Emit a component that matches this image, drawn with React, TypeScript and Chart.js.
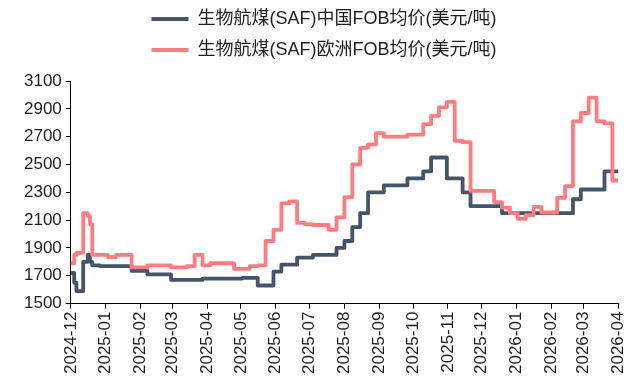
import React, { useEffect, useRef } from 'react';
import { Chart, registerables } from 'chart.js';

Chart.register(...registerables);

// Observation dates (price valid from this date until the next one)
const dates: string[] = [
  '2024-12-02', '2024-12-04', '2024-12-06', '2024-12-12', '2024-12-16', '2024-12-18',
  '2024-12-20', '2024-12-27',
  '2025-01-03', '2025-01-10', '2025-01-17', '2025-01-24', '2025-01-31',
  '2025-02-07', '2025-02-14', '2025-02-21', '2025-02-28',
  '2025-03-07', '2025-03-14', '2025-03-21', '2025-03-28',
  '2025-04-04', '2025-04-11', '2025-04-18', '2025-04-25',
  '2025-05-02', '2025-05-09', '2025-05-16', '2025-05-23', '2025-05-30',
  '2025-06-06', '2025-06-13', '2025-06-20', '2025-06-27',
  '2025-07-04', '2025-07-11', '2025-07-18', '2025-07-25',
  '2025-08-01', '2025-08-08', '2025-08-15', '2025-08-22', '2025-08-29',
  '2025-09-05', '2025-09-12', '2025-09-19', '2025-09-26',
  '2025-10-03', '2025-10-10', '2025-10-17', '2025-10-24', '2025-10-31',
  '2025-11-07', '2025-11-14', '2025-11-21', '2025-11-28',
  '2025-12-05', '2025-12-12', '2025-12-19', '2025-12-26',
  '2026-01-02', '2026-01-09', '2026-01-16', '2026-01-23', '2026-01-30',
  '2026-02-06', '2026-02-13', '2026-02-20', '2026-02-27',
  '2026-03-06', '2026-03-13', '2026-03-20', '2026-03-27',
  '2026-04-01',
];

const chinaPrices: number[] = [
  1720, 1650, 1590, 1800, 1850, 1800,
  1775, 1770,
  1770, 1770, 1770, 1735, 1735,
  1710, 1710, 1710, 1670,
  1670, 1670, 1670, 1680,
  1680, 1680, 1680, 1680,
  1685, 1685, 1630, 1630, 1730,
  1780, 1780, 1830, 1830,
  1850, 1850, 1850, 1900,
  1950, 2050, 2150, 2300, 2300,
  2350, 2350, 2350, 2400,
  2400, 2450, 2550, 2550, 2400,
  2400, 2300, 2200, 2200,
  2200, 2200, 2150, 2150,
  2150, 2150, 2150, 2150, 2150,
  2150, 2150, 2250, 2320,
  2320, 2320, 2450, 2450,
  2450,
];

const europePrices: number[] = [
  1790, 1850, 1865, 2150, 2130, 2070,
  1850, 1850,
  1835, 1850, 1850, 1760, 1760,
  1775, 1775, 1775, 1760,
  1760, 1770, 1850, 1775,
  1790, 1790, 1790, 1750,
  1750, 1770, 1775, 1950, 2030,
  2220, 2235, 2080, 2070,
  2065, 2065, 2030, 2120,
  2265, 2500, 2620, 2645, 2725,
  2700, 2700, 2700, 2715,
  2715, 2790, 2850, 2910, 2950,
  2670, 2660, 2310, 2310,
  2310, 2230, 2190, 2150,
  2110, 2135, 2195, 2155, 2155,
  2260, 2345, 2810, 2870,
  2980, 2810, 2795, 2385,
  2385,
];

const monthLabels: string[] = [
  '2024-12', '2025-01', '2025-02', '2025-03', '2025-04', '2025-05', '2025-06',
  '2025-07', '2025-08', '2025-09', '2025-10', '2025-11', '2025-12',
  '2026-01', '2026-02', '2026-03', '2026-04',
];

const seriesNames: string[] = [
  '生物航煤(SAF)中国FOB均价(美元/吨)',
  '生物航煤(SAF)欧洲FOB均价(美元/吨)',
];

const yTicks: number[] = [1500, 1700, 1900, 2100, 2300, 2500, 2700, 2900, 3100];

const BASE = Date.UTC(2024, 11, 1);
const dayOf = (s: string) => (Date.parse(s + 'T00:00:00Z') - BASE) / 86400000;

const FONT_FAMILY = "'Liberation Sans', Arial, 'Noto Sans CJK SC', sans-serif";
const TEXT_COLOR = '#1e1e1e';

const legendTweak = {
  id: 'legendTweak',
  afterInit(chart: any) {
    const lg = chart.legend;
    if (!lg || lg.__tweaked) return;
    lg.__tweaked = true;
    const fit = lg.fit.bind(lg);
    lg.fit = function () {
      fit();
      this.height += 9;
    };
    const draw = lg.draw.bind(lg);
    lg.draw = function () {
      const ctx = this.ctx;
      ctx.save();
      ctx.translate(5, -3);
      draw();
      ctx.restore();
    };
  },
};

export default function App() {
  const ref = useRef<HTMLCanvasElement>(null);

  useEffect(() => {
    document.body.style.margin = '0';
    const canvas = ref.current!;
    const chart = new Chart(canvas, {
      type: 'line',
      data: {
        datasets: [
          {
            label: seriesNames[0],
            data: dates.map((d, i) => ({ x: dayOf(d), y: chinaPrices[i] })),
            borderColor: '#44546A',
            backgroundColor: '#44546A',
            borderWidth: 3.8,
            pointRadius: 0,
            stepped: true,
            borderJoinStyle: 'round',
            borderCapStyle: 'round',
            order: 1,
          },
          {
            label: seriesNames[1],
            data: dates.map((d, i) => ({ x: dayOf(d), y: europePrices[i] })),
            borderColor: '#FF7C80',
            backgroundColor: '#FF7C80',
            borderWidth: 3.8,
            pointRadius: 0,
            stepped: true,
            borderJoinStyle: 'round',
            borderCapStyle: 'round',
            order: 0,
          },
        ],
      },
      options: {
        responsive: false,
        animation: false,
        layout: { padding: { left: 20, right: 16, top: 0, bottom: 2 } },
        plugins: {
          legend: {
            position: 'top',
            labels: {
              usePointStyle: true,
              pointStyle: 'line',
              pointStyleWidth: 37,
              padding: 13,
              color: TEXT_COLOR,
              font: { family: FONT_FAMILY, size: 18 },
              sort: (a: any, b: any) => a.datasetIndex - b.datasetIndex,
            },
          },
          tooltip: { enabled: false },
        },
        scales: {
          x: {
            type: 'linear',
            min: dayOf(monthLabels[0] + '-01'),
            max: dayOf(monthLabels[monthLabels.length - 1] + '-01'),
            afterBuildTicks: (scale: any) => {
              scale.ticks = monthLabels.map((m) => ({ value: dayOf(m + '-01') }));
            },
            afterFit: (scale: any) => {
              scale.paddingRight = 0;
              scale.paddingLeft = 0;
            },
            ticks: {
              autoSkip: false,
              maxRotation: 90,
              minRotation: 90,
              padding: 3,
              color: TEXT_COLOR,
              font: { family: FONT_FAMILY, size: 17 },
              callback: (_v: any, i: number) => monthLabels[i],
            },
            grid: { drawOnChartArea: false, tickLength: 5, color: '#000' },
            border: { color: '#000', width: 1 },
          },
          y: {
            min: yTicks[0],
            max: yTicks[yTicks.length - 1],
            afterBuildTicks: (scale: any) => {
              scale.ticks = yTicks.map((v) => ({ value: v }));
            },
            ticks: {
              padding: 4,
              color: TEXT_COLOR,
              font: { family: FONT_FAMILY, size: 17 },
              callback: (v: any) => String(v),
            },
            grid: { drawOnChartArea: false, tickLength: 5, color: '#000' },
            border: { color: '#000', width: 1 },
          },
        },
      },
      plugins: [legendTweak],
    } as any);
    return () => chart.destroy();
  }, []);

  return (
    <div style={{ position: 'fixed', left: 0, top: 0, width: 634, height: 379, background: '#fff' }}>
      <canvas ref={ref} width={634} height={379} style={{ display: 'block' }} />
    </div>
  );
}
